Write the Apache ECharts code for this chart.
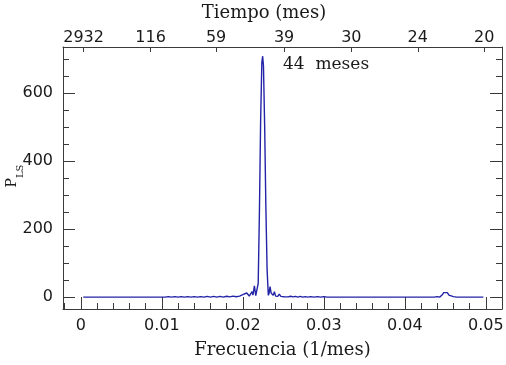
<!DOCTYPE html>
<html>
<head>
<meta charset="utf-8">
<script src="https://cdn.jsdelivr.net/npm/echarts@6/dist/echarts.min.js"></script>
<style>
html,body{margin:0;padding:0;background:#fff;}
#c{width:506px;height:365px;}
</style>
</head>
<body>
<div id="c"></div>
<script>
// Frequency (1/mes) and Lomb-Scargle power
const freq = [
  0.0003, 0.0098, 0.0100, 0.0104, 0.0108, 0.0112, 0.0116, 0.0120, 0.0124, 0.0128,
  0.0132, 0.0136, 0.0140, 0.0144, 0.0148, 0.0152, 0.0156, 0.0160, 0.0164, 0.0168,
  0.0172, 0.0176, 0.0180, 0.0184, 0.0188, 0.0192, 0.0196, 0.0200, 0.0202, 0.02048,
  0.0208, 0.02114, 0.02125, 0.02143, 0.02160, 0.02172, 0.02190, 0.02205, 0.02220, 0.02235,
  0.02245, 0.02255, 0.02270, 0.02285, 0.02300, 0.02315, 0.02325, 0.02336, 0.02350, 0.02360,
  0.02375, 0.02390, 0.02405, 0.02418, 0.02432, 0.02450, 0.02470, 0.02490, 0.02510, 0.02530,
  0.02560, 0.02590, 0.02620, 0.02650, 0.02680, 0.02710, 0.02740, 0.02770, 0.02800, 0.02840,
  0.02880, 0.02920, 0.02960, 0.03000, 0.03040, 0.04360, 0.04400, 0.04430, 0.04460, 0.04480,
  0.04503, 0.04525, 0.04545, 0.04565, 0.04600, 0.04640, 0.04970
];
const power = [
  0, 0, 1, 0, 1.5, 0, 1.5, 0, 1.5, 0,
  1.5, 0, 1.5, 0, 1.5, 0, 2, 0, 2, 0,
  2, 0, 2.5, 0.5, 3, 1, 3, 7, 2, 12,
  3, 16, 6, 33, 4, 0, 40, 250, 520, 690,
  708, 680, 500, 260, 80, 5, 12, 31, 12, 10,
  5, 16, 3, 7, 2, 9, 2, 5, 1, 3,
  0.5, 2.5, 0.5, 2, 0, 2, 0, 1.5, 0, 1.5,
  0, 1.5, 0, 1.5, 0, 0, 1.5, 0, 6, 13,
  16, 13, 6, 0.5, 1.5, 0, 0
];

// Bottom axis ticks
const xMajor = [0, 0.01, 0.02, 0.03, 0.04, 0.05];
const xMinor = [-0.002, 0.002, 0.004, 0.006, 0.008, 0.012, 0.014, 0.016, 0.018, 0.022, 0.024, 0.026, 0.028,
                0.032, 0.034, 0.036, 0.038, 0.042, 0.044, 0.046, 0.048, 0.052];
// Top axis (period) ticks
const topTickFreq = [0.00034, 0.00862, 0.01670, 0.02510, 0.03340, 0.04160, 0.04980];
const topTickLabels = ['2932', '116', '59', '39', '30', '24', '20'];
// Left axis ticks
const yMajor = [0, 200, 400, 600];
const yMinor = [50, 100, 150, 250, 300, 350, 450, 500, 550, 650, 700];

const X_MIN = -0.0022, X_MAX = 0.0520, Y_MIN = -35, Y_MAX = 735;
const frameColor = '#3a3a3a';
const labelFont = {fontFamily: 'DejaVu Sans', fontSize: 16, color: '#1a1a1a'};

const data = freq.map((f, i) => [f, power[i]]);

function xBase(extra) {
  return Object.assign({
    type: 'value', min: X_MIN, max: X_MAX, splitLine: {show: false},
    axisLine: {show: false, onZero: false},
    axisTick: {show: false}, axisLabel: {show: false}
  }, extra);
}
function yBase(extra) {
  return Object.assign({
    type: 'value', min: Y_MIN, max: Y_MAX, splitLine: {show: false},
    axisLine: {show: false, onZero: false},
    axisTick: {show: false}, axisLabel: {show: false}
  }, extra);
}
const line = {show: true, onZero: false, lineStyle: {color: frameColor, width: 1}};

const chart = echarts.init(document.getElementById('c'), null, {renderer: 'canvas'});
chart.setOption({
  animation: false,
  backgroundColor: '#fff',
  grid: {left: 63, right: 4, top: 47, bottom: 56, containLabel: false, outerBoundsMode: 'none'},
  xAxis: [
    xBase({
      position: 'bottom', axisLine: line,
      axisTick: {show: true, inside: true, length: 12, customValues: xMajor, lineStyle: {color: frameColor}},
      axisLabel: Object.assign({show: true, customValues: xMajor, margin: 9,
        formatter: v => String(Math.round(v * 100) / 100)}, labelFont),
      name: 'Frecuencia (1/mes)', nameLocation: 'middle', nameGap: 32,
      nameTextStyle: {fontFamily: 'DejaVu Serif', fontSize: 18, color: '#1a1a1a'}
    }),
    xBase({
      position: 'bottom',
      axisTick: {show: true, inside: true, length: 6, customValues: xMinor, lineStyle: {color: frameColor}}
    }),
    xBase({
      position: 'top', axisLine: line,
      axisTick: {show: true, inside: true, length: 5, customValues: topTickFreq, lineStyle: {color: frameColor}},
      axisLabel: Object.assign({show: true, customValues: topTickFreq, margin: 1,
        formatter: v => {
          let best = 0;
          topTickFreq.forEach((f, i) => { if (Math.abs(f - v) < Math.abs(topTickFreq[best] - v)) best = i; });
          return topTickLabels[best];
        }}, labelFont)
    })
  ],
  yAxis: [
    yBase({
      position: 'left', axisLine: line,
      axisTick: {show: true, inside: true, length: 12, customValues: yMajor, lineStyle: {color: frameColor}},
      axisLabel: Object.assign({show: true, customValues: yMajor, margin: 10}, labelFont)
    }),
    yBase({
      position: 'left',
      axisTick: {show: true, inside: true, length: 6, customValues: yMinor, lineStyle: {color: frameColor}}
    }),
    yBase({
      position: 'right', axisLine: line,
      axisTick: {show: true, inside: true, length: 12, customValues: yMajor, lineStyle: {color: frameColor}}
    }),
    yBase({
      position: 'right',
      axisTick: {show: true, inside: true, length: 6, customValues: yMinor, lineStyle: {color: frameColor}}
    })
  ],
  series: [{
    type: 'line', xAxisIndex: 0, yAxisIndex: 0, data: data,
    showSymbol: false, smooth: false,
    lineStyle: {color: '#2323a8', width: 1.4}
  }],
  graphic: [
    {type: 'text', x: 264, y: 13,
     style: {text: 'Tiempo (mes)', fontFamily: 'DejaVu Serif', fontSize: 18, fill: '#1a1a1a', align: 'center', verticalAlign: 'middle'}},
    {type: 'text', x: 283, y: 65,
     style: {text: '44  meses', fontFamily: 'DejaVu Serif', fontSize: 17, fill: '#1a1a1a', align: 'left', verticalAlign: 'middle'}},
    {type: 'text', x: 15.5, y: 176, rotation: Math.PI / 2,
     style: {text: '{p|P}{s|LS}', align: 'center', verticalAlign: 'middle',
       rich: {
         p: {fontFamily: 'DejaVu Serif', fontSize: 14, fill: '#1a1a1a', lineHeight: 20, verticalAlign: 'top'},
         s: {fontFamily: 'DejaVu Serif', fontSize: 10, fill: '#1a1a1a', lineHeight: 20, verticalAlign: 'bottom'}
       }}}
  ]
});
</script>
</body>
</html>
